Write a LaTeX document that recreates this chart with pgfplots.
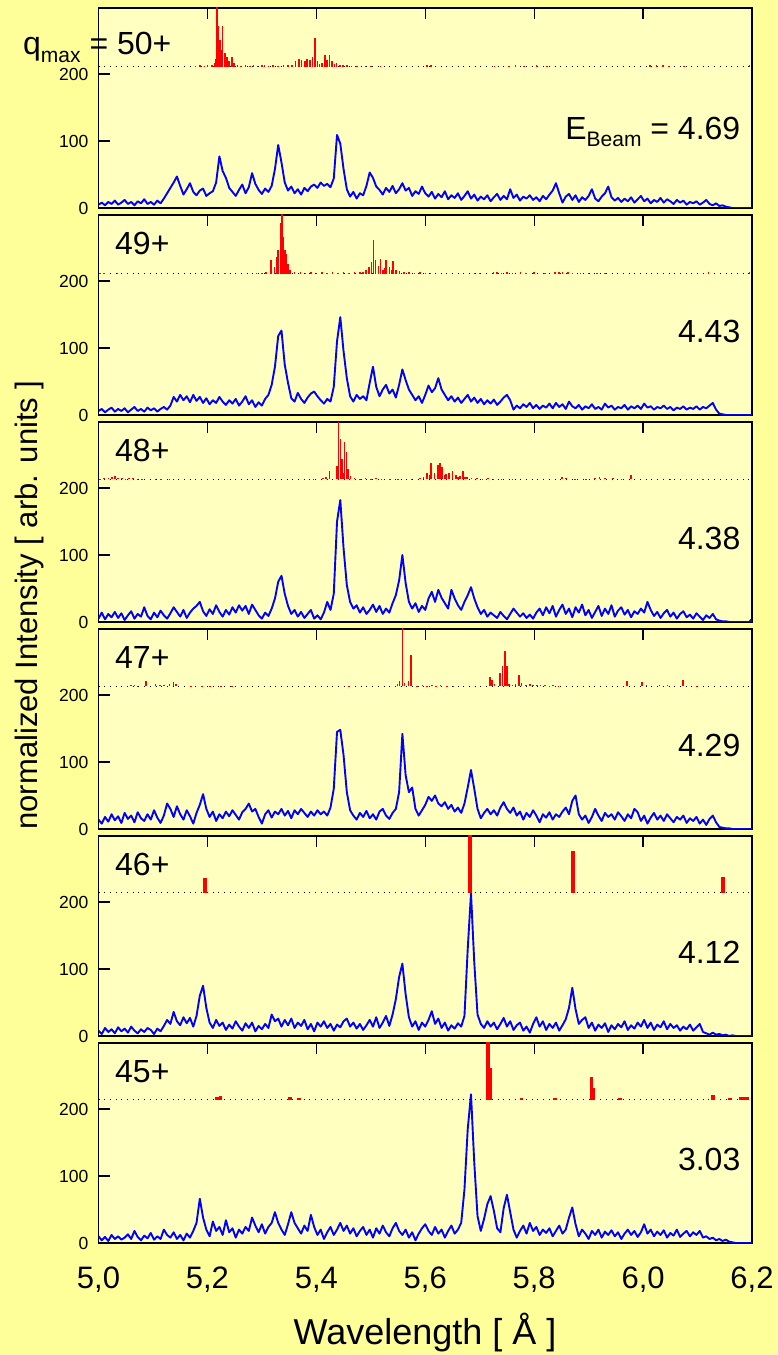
\documentclass[border=0pt]{standalone}
\usepackage{fontspec}
\setmainfont{Liberation Sans}
\usepackage{pgfplots}
\usepackage{pgfplotstable}
\pgfplotsset{compat=1.18}
\definecolor{outerbg}{RGB}{255,255,153}
\definecolor{innerbg}{RGB}{255,255,192}
\newcommand\fs[1]{\fontsize{#1}{#1}\selectfont}

\pgfplotsset{
  panel/.style={
    scale only axis, width=653.5pt, height=200pt,
    xmin=5, xmax=6.2, ymin=0, ymax=298.5,
    anchor=north west,
    axis background/.style={fill=innerbg},
    xtick={5,5.2,5.4,5.6,5.8,6.0,6.2},
    xtick pos=right, xticklabel pos=left,
    ytick={0,100,200}, yticklabels={0,100,200},
    ytick pos=left,
    tick align=inside,
    major tick length=11pt,
    xticklabels={},
    yticklabel style={font=\fs{17.5}, inner sep=0pt, xshift=-10pt},
    axis line style={line width=1.2pt, black},
    tick style={line width=1.2pt, black},
  },
  overlay/.style={
    scale only axis, width=653.5pt, height=200pt,
    xmin=5, xmax=6.2, anchor=north west, hide axis, clip=true,
  },
  bluel/.style={blue, line width=1.9pt, line join=round, mark=none},
  dotl/.style={black, line width=1pt, dash pattern=on 1pt off 4.7pt},
  sticks/.style={ycomb, red, mark=none, line width=#1},
}

% ---------------- blue spectra ----------------
\pgfplotstableread{
x y
5.000 5
5.006 8
5.012 4
5.018 9
5.024 6
5.030 11
5.036 5
5.042 8
5.048 12
5.054 6
5.060 9
5.066 4
5.072 10
5.078 7
5.084 13
5.090 6
5.096 9
5.102 5
5.108 11
5.114 7
5.120 14
5.126 22
5.132 30
5.138 38
5.144 47
5.150 33
5.156 20
5.162 28
5.168 37
5.174 24
5.180 19
5.186 26
5.192 29
5.198 18
5.204 22
5.210 25
5.216 38
5.222 77
5.228 55
5.234 45
5.240 30
5.246 24
5.252 18
5.258 27
5.264 35
5.270 22
5.276 31
5.282 52
5.288 36
5.294 27
5.300 21
5.306 29
5.312 24
5.318 33
5.324 58
5.330 94
5.336 68
5.342 38
5.348 26
5.354 32
5.360 22
5.366 28
5.372 20
5.378 30
5.384 25
5.390 32
5.396 35
5.402 30
5.408 38
5.414 33
5.420 36
5.426 31
5.432 44
5.438 109
5.444 96
5.450 58
5.456 28
5.462 17
5.468 24
5.474 14
5.480 22
5.486 19
5.492 33
5.498 53
5.504 45
5.510 32
5.516 27
5.522 20
5.528 30
5.534 24
5.540 33
5.546 22
5.552 28
5.558 37
5.564 26
5.570 30
5.576 18
5.582 25
5.588 21
5.594 32
5.600 22
5.606 17
5.612 24
5.618 14
5.624 21
5.630 16
5.636 25
5.642 13
5.648 19
5.654 15
5.660 22
5.666 12
5.672 18
5.678 25
5.684 14
5.690 20
5.696 11
5.702 17
5.708 13
5.714 19
5.720 10
5.726 16
5.732 21
5.738 12
5.744 18
5.750 13
5.756 28
5.762 15
5.768 20
5.774 11
5.780 17
5.786 14
5.792 19
5.798 12
5.804 16
5.810 10
5.816 18
5.822 13
5.828 20
5.834 26
5.840 37
5.846 22
5.852 8
5.858 17
5.864 21
5.870 12
5.876 19
5.882 9
5.888 16
5.894 12
5.900 18
5.906 28
5.912 14
5.918 10
5.924 17
5.930 22
5.936 32
5.942 16
5.948 11
5.954 15
5.960 9
5.966 14
5.972 10
5.978 16
5.984 8
5.990 13
5.996 18
6.002 10
6.008 14
6.014 7
6.020 12
6.026 9
6.032 15
6.038 8
6.044 13
6.050 10
6.056 6
6.062 12
6.068 8
6.074 11
6.080 5
6.086 9
6.092 7
6.098 10
6.104 5
6.110 8
6.116 12
6.122 6
6.128 4
6.134 7
6.140 3
6.146 4
6.152 2
6.158 1
6.164 0
6.200 0
}\blueA

\pgfplotstableread{
x y
5.000 6
5.006 9
5.012 4
5.018 8
5.024 11
5.030 5
5.036 9
5.042 6
5.048 10
5.054 4
5.060 8
5.066 12
5.072 6
5.078 9
5.084 5
5.090 11
5.096 7
5.102 10
5.108 5
5.114 9
5.120 12
5.126 8
5.132 14
5.138 27
5.144 20
5.150 30
5.156 22
5.162 28
5.168 19
5.174 30
5.180 21
5.186 27
5.192 18
5.198 25
5.204 16
5.210 22
5.216 18
5.222 27
5.228 20
5.234 15
5.240 22
5.246 17
5.252 24
5.258 14
5.264 20
5.270 28
5.276 16
5.282 22
5.288 12
5.294 19
5.300 14
5.306 24
5.312 30
5.318 45
5.324 72
5.330 118
5.336 126
5.342 75
5.348 48
5.354 25
5.360 20
5.366 33
5.372 24
5.378 18
5.384 26
5.390 32
5.396 35
5.402 28
5.408 22
5.414 17
5.420 24
5.426 20
5.432 42
5.438 110
5.444 146
5.450 95
5.456 55
5.462 28
5.468 20
5.474 30
5.480 24
5.486 28
5.492 22
5.498 48
5.504 72
5.510 42
5.516 28
5.522 38
5.528 45
5.534 32
5.540 38
5.546 26
5.552 45
5.558 68
5.564 52
5.570 38
5.576 30
5.582 22
5.588 28
5.594 18
5.600 30
5.606 44
5.612 34
5.618 40
5.624 55
5.630 38
5.636 30
5.642 22
5.648 28
5.654 20
5.660 26
5.666 18
5.672 24
5.678 30
5.684 20
5.690 26
5.696 18
5.702 24
5.708 16
5.714 22
5.720 17
5.726 23
5.732 15
5.738 20
5.744 26
5.750 30
5.756 22
5.762 8
5.768 14
5.774 10
5.780 16
5.786 12
5.792 18
5.798 10
5.804 15
5.810 9
5.816 14
5.822 11
5.828 17
5.834 10
5.840 18
5.846 12
5.852 16
5.858 9
5.864 20
5.870 13
5.876 10
5.882 15
5.888 8
5.894 13
5.900 10
5.906 16
5.912 9
5.918 12
5.924 8
5.930 17
5.936 11
5.942 14
5.948 8
5.954 12
5.960 10
5.966 15
5.972 8
5.978 13
5.984 10
5.990 14
5.996 9
6.002 17
6.008 11
6.014 13
6.020 8
6.026 12
6.032 10
6.038 14
6.044 9
6.050 12
6.056 7
6.062 11
6.068 9
6.074 13
6.080 8
6.086 11
6.092 9
6.098 13
6.104 8
6.110 12
6.116 10
6.122 14
6.128 18
6.134 8
6.140 2
6.146 1
6.152 0
6.200 0
}\blueB

\pgfplotstableread{
x y
5.000 5
5.006 14
5.012 4
5.018 12
5.024 7
5.030 15
5.036 6
5.042 13
5.048 3
5.054 10
5.060 16
5.066 5
5.072 12
5.078 8
5.084 22
5.090 9
5.096 4
5.102 14
5.108 7
5.114 17
5.120 10
5.126 5
5.132 13
5.138 22
5.144 15
5.150 8
5.156 18
5.162 6
5.168 14
5.174 20
5.180 24
5.186 30
5.192 16
5.198 9
5.204 19
5.210 12
5.216 25
5.222 15
5.228 8
5.234 18
5.240 11
5.246 22
5.252 14
5.258 25
5.264 17
5.270 24
5.276 12
5.282 26
5.288 18
5.294 10
5.300 5
5.306 14
5.312 9
5.318 20
5.324 35
5.330 60
5.336 69
5.342 42
5.348 24
5.354 12
5.360 18
5.366 8
5.372 15
5.378 6
5.384 12
5.390 18
5.396 5
5.402 10
5.408 4
5.414 14
5.420 30
5.426 18
5.432 42
5.438 150
5.444 182
5.450 110
5.456 55
5.462 30
5.468 20
5.474 25
5.480 14
5.486 22
5.492 12
5.498 18
5.504 26
5.510 15
5.516 24
5.522 12
5.528 20
5.534 14
5.540 28
5.546 40
5.552 62
5.558 100
5.564 58
5.570 30
5.576 20
5.582 28
5.588 15
5.594 24
5.600 18
5.606 35
5.612 45
5.618 30
5.624 48
5.630 36
5.636 28
5.642 20
5.648 48
5.654 35
5.660 25
5.666 18
5.672 30
5.678 40
5.684 52
5.690 35
5.696 22
5.702 12
5.708 18
5.714 8
5.720 14
5.726 10
5.732 6
5.738 15
5.744 9
5.750 4
5.756 12
5.762 20
5.768 14
5.774 8
5.780 13
5.786 6
5.792 11
5.798 5
5.804 14
5.810 20
5.816 10
5.822 22
5.828 13
5.834 24
5.840 8
5.846 18
5.852 26
5.858 12
5.864 20
5.870 7
5.876 22
5.882 14
5.888 26
5.894 10
5.900 18
5.906 6
5.912 15
5.918 24
5.924 9
5.930 20
5.936 12
5.942 25
5.948 8
5.954 17
5.960 22
5.966 11
5.972 18
5.978 7
5.984 16
5.990 12
5.996 20
6.002 14
6.008 30
6.014 18
6.020 9
6.026 15
6.032 6
6.038 13
6.044 18
6.050 8
6.056 14
6.062 5
6.068 12
6.074 16
6.080 7
6.086 11
6.092 5
6.098 13
6.104 8
6.110 3
6.116 10
6.122 6
6.128 12
6.134 4
6.140 2
6.146 1
6.152 1
6.158 0
6.195 0
6.198 3
6.200 0
}\blueC

\pgfplotstableread{
x y
5.000 14
5.006 8
5.012 18
5.018 11
5.024 22
5.030 13
5.036 19
5.042 9
5.048 24
5.054 15
5.060 20
5.066 10
5.072 25
5.078 16
5.084 12
5.090 22
5.096 14
5.102 28
5.108 17
5.114 9
5.120 20
5.126 38
5.132 30
5.138 18
5.144 34
5.150 22
5.156 14
5.162 28
5.168 19
5.174 8
5.180 24
5.186 36
5.192 52
5.198 30
5.204 18
5.210 26
5.216 12
5.222 22
5.228 16
5.234 26
5.240 19
5.246 28
5.252 21
5.258 14
5.264 25
5.270 30
5.276 38
5.282 26
5.288 30
5.294 18
5.300 8
5.306 22
5.312 28
5.318 17
5.324 26
5.330 22
5.336 30
5.342 20
5.348 27
5.354 16
5.360 28
5.366 22
5.372 30
5.378 24
5.384 18
5.390 26
5.396 20
5.402 28
5.408 22
5.414 26
5.420 20
5.426 32
5.432 60
5.438 145
5.444 148
5.450 110
5.456 55
5.462 28
5.468 20
5.474 14
5.480 24
5.486 18
5.492 27
5.498 16
5.504 22
5.510 14
5.516 26
5.522 30
5.528 20
5.534 15
5.540 24
5.546 30
5.552 55
5.558 142
5.564 80
5.570 55
5.576 62
5.582 30
5.588 20
5.594 28
5.600 36
5.606 48
5.612 42
5.618 50
5.624 38
5.630 34
5.636 40
5.642 30
5.648 36
5.654 26
5.660 32
5.666 24
5.672 38
5.678 62
5.684 88
5.690 60
5.696 30
5.702 16
5.708 24
5.714 30
5.720 22
5.726 28
5.732 20
5.738 32
5.744 40
5.750 30
5.756 24
5.762 32
5.768 20
5.774 26
5.780 14
5.786 24
5.792 18
5.798 28
5.804 20
5.810 10
5.816 22
5.822 17
5.828 25
5.834 14
5.840 22
5.846 18
5.852 26
5.858 32
5.864 22
5.870 42
5.876 50
5.882 22
5.888 14
5.894 20
5.900 9
5.906 18
5.912 30
5.918 20
5.924 12
5.930 24
5.936 18
5.942 22
5.948 14
5.954 25
5.960 19
5.966 12
5.972 22
5.978 16
5.984 30
5.990 25
5.996 12
6.002 20
6.008 8
6.014 17
6.020 24
6.026 14
6.032 20
6.038 12
6.044 22
6.050 16
6.056 10
6.062 18
6.068 14
6.074 20
6.080 9
6.086 16
6.092 12
6.098 18
6.104 8
6.110 14
6.116 6
6.122 15
6.128 20
6.134 10
6.140 3
6.146 2
6.152 1
6.158 1
6.164 0
6.200 0
}\blueD

\pgfplotstableread{
x y
5.000 8
5.006 3
5.012 12
5.018 6
5.024 10
5.030 4
5.036 13
5.042 7
5.048 11
5.054 5
5.060 14
5.066 8
5.072 4
5.078 10
5.084 6
5.090 12
5.096 9
5.102 3
5.108 11
5.114 7
5.120 15
5.126 24
5.132 18
5.138 36
5.144 22
5.150 16
5.156 28
5.162 19
5.168 27
5.174 14
5.180 30
5.186 60
5.192 75
5.198 42
5.204 20
5.210 12
5.216 24
5.222 15
5.228 20
5.234 9
5.240 17
5.246 11
5.252 22
5.258 14
5.264 8
5.270 19
5.276 12
5.282 20
5.288 7
5.294 15
5.300 10
5.306 18
5.312 12
5.318 32
5.324 22
5.330 26
5.336 14
5.342 24
5.348 16
5.354 26
5.360 12
5.366 20
5.372 15
5.378 24
5.384 10
5.390 18
5.396 7
5.402 20
5.408 14
5.414 22
5.420 12
5.426 18
5.432 8
5.438 17
5.444 13
5.450 22
5.456 26
5.462 14
5.468 20
5.474 11
5.480 18
5.486 9
5.492 16
5.498 24
5.504 14
5.510 28
5.516 12
5.522 20
5.528 30
5.534 15
5.540 32
5.546 55
5.552 88
5.558 108
5.564 62
5.570 28
5.576 14
5.582 22
5.588 9
5.594 20
5.600 14
5.606 24
5.612 37
5.618 18
5.624 26
5.630 12
5.636 20
5.642 8
5.648 16
5.654 11
5.660 19
5.666 14
5.672 30
5.678 130
5.684 213
5.690 110
5.696 32
5.702 18
5.708 12
5.714 22
5.720 14
5.726 20
5.732 10
5.738 18
5.744 27
5.750 14
5.756 22
5.762 9
5.768 16
5.774 20
5.780 8
5.786 14
5.792 5
5.798 18
5.804 28
5.810 14
5.816 22
5.822 9
5.828 18
5.834 12
5.840 20
5.846 8
5.852 16
5.858 25
5.864 42
5.870 72
5.876 40
5.882 18
5.888 24
5.894 28
5.900 12
5.906 20
5.912 8
5.918 17
5.924 12
5.930 19
5.936 6
5.942 16
5.948 10
5.954 18
5.960 13
5.966 22
5.972 9
5.978 16
5.984 11
5.990 20
5.996 14
6.002 24
6.008 12
6.014 20
6.020 9
6.026 17
6.032 13
6.038 22
6.044 10
6.050 18
6.056 12
6.062 16
6.068 8
6.074 14
6.080 10
6.086 17
6.092 8
6.098 13
6.104 18
6.110 6
6.116 4
6.122 2
6.128 5
6.134 2
6.140 3
6.146 1
6.152 2
6.158 0
6.164 1
6.170 0
6.200 0
}\blueE

\pgfplotstableread{
x y
5.000 10
5.006 4
5.012 9
5.018 3
5.024 12
5.030 6
5.036 10
5.042 5
5.048 8
5.054 13
5.060 6
5.066 18
5.072 9
5.078 4
5.084 11
5.090 7
5.096 15
5.102 5
5.108 10
5.114 6
5.120 20
5.126 12
5.132 8
5.138 16
5.144 6
5.150 12
5.156 4
5.162 14
5.168 8
5.174 18
5.180 30
5.186 66
5.192 38
5.198 20
5.204 10
5.210 32
5.216 18
5.222 24
5.228 12
5.234 34
5.240 16
5.246 22
5.252 8
5.258 20
5.264 14
5.270 24
5.276 18
5.282 38
5.288 26
5.294 16
5.300 28
5.306 14
5.312 24
5.318 30
5.324 46
5.330 30
5.336 20
5.342 12
5.348 28
5.354 46
5.360 30
5.366 22
5.372 14
5.378 26
5.384 18
5.390 42
5.396 24
5.402 12
5.408 20
5.414 6
5.420 16
5.426 24
5.432 12
5.438 20
5.444 30
5.450 18
5.456 26
5.462 14
5.468 22
5.474 10
5.480 18
5.486 24
5.492 12
5.498 20
5.504 8
5.510 22
5.516 14
5.522 26
5.528 16
5.534 10
5.540 22
5.546 30
5.552 18
5.558 12
5.564 20
5.570 8
5.576 16
5.582 4
5.588 14
5.594 22
5.600 28
5.606 18
5.612 12
5.618 24
5.624 14
5.630 20
5.636 8
5.642 18
5.648 26
5.654 14
5.660 20
5.666 30
5.672 80
5.678 170
5.684 222
5.690 120
5.696 40
5.702 18
5.708 36
5.714 58
5.720 70
5.726 48
5.732 22
5.738 16
5.744 52
5.750 72
5.756 46
5.762 20
5.768 8
5.774 18
5.780 26
5.786 14
5.792 30
5.798 18
5.804 24
5.810 12
5.816 20
5.822 15
5.828 22
5.834 10
5.840 18
5.846 26
5.852 14
5.858 20
5.864 38
5.870 53
5.876 28
5.882 10
5.888 20
5.894 14
5.900 6
5.906 18
5.912 12
5.918 20
5.924 8
5.930 17
5.936 12
5.942 19
5.948 10
5.954 16
5.960 6
5.966 14
5.972 20
5.978 12
5.984 18
5.990 9
5.996 16
6.002 28
6.008 14
6.014 20
6.020 10
6.026 17
6.032 12
6.038 19
6.044 8
6.050 15
6.056 11
6.062 20
6.068 9
6.074 14
6.080 18
6.086 10
6.092 16
6.098 12
6.104 18
6.110 8
6.116 10
6.122 6
6.128 8
6.134 4
6.140 6
6.146 3
6.152 5
6.158 2
6.164 1
6.170 0
6.200 0
}\blueF

% ---------------- red stick spectra: x, height above the dotted baseline ----------------
\pgfplotstableread{
x h
5.178 1
5.186 2
5.195 1
5.200 2
5.208 3
5.213 5
5.216 12
5.218 90
5.220 60
5.223 40
5.225 25
5.228 60
5.232 20
5.236 15
5.240 8
5.245 15
5.249 5
5.255 2
5.262 1
5.270 2
5.278 1
5.285 2
5.292 1
5.300 3
5.305 2
5.312 1
5.320 2
5.330 1
5.340 2
5.348 3
5.355 2
5.362 8
5.368 12
5.373 10
5.379 8
5.383 12
5.388 10
5.393 14
5.398 43
5.402 8
5.406 4
5.410 6
5.416 18
5.420 10
5.424 17
5.429 8
5.433 4
5.437 5
5.443 2
5.449 3
5.456 2
5.465 1
5.475 1
5.490 1
5.500 1
5.518 1
5.603 2
5.611 2
5.727 1
5.754 1
5.766 2
5.781 1
5.804 2
5.824 1
6.013 2
6.025 2
6.037 2
6.048 1
6.075 1
6.195 2
}\redA

\pgfplotstableread{
x h
5.003 1
5.010 1
5.035 1
5.232 1
5.290 1
5.300 1
5.308 2
5.317 20
5.323 10
5.327 25
5.330 35
5.334 75
5.337 90
5.339 55
5.342 35
5.345 30
5.348 15
5.352 5
5.360 2
5.371 2
5.380 1
5.390 2
5.400 1
5.410 2
5.420 1
5.430 2
5.440 1
5.450 2
5.460 1
5.470 2
5.480 2
5.486 3
5.491 5
5.497 10
5.501 18
5.505 50
5.509 20
5.514 12
5.518 22
5.522 6
5.525 8
5.528 20
5.534 10
5.538 5
5.541 19
5.546 6
5.553 4
5.561 3
5.570 2
5.580 1
5.590 2
5.600 1
5.610 1
5.690 1
5.700 1
5.725 2
5.732 2
5.740 1
5.750 2
5.760 1
5.775 2
5.785 1
5.800 2
5.820 1
5.838 3
5.846 3
5.852 2
5.862 2
5.870 1
5.885 1
5.900 1
5.915 1
5.930 1
6.120 2
6.195 2
}\redB

\pgfplotstableread{
x h
5.003 1
5.010 2
5.018 2
5.025 3
5.030 5
5.036 2
5.043 2
5.050 1
5.056 2
5.063 2
5.072 1
5.080 1
5.105 1
5.115 1
5.130 1
5.395 1
5.412 2
5.418 4
5.424 13
5.438 20
5.441 85
5.444 60
5.447 30
5.450 10
5.452 55
5.455 40
5.458 15
5.463 5
5.470 2
5.480 1
5.490 2
5.500 1
5.510 2
5.520 1
5.535 1
5.550 1
5.575 1
5.590 2
5.597 4
5.603 10
5.608 6
5.611 24
5.617 10
5.623 22
5.627 25
5.631 18
5.635 6
5.638 8
5.644 10
5.650 12
5.656 6
5.660 3
5.664 5
5.669 12
5.673 3
5.677 4
5.685 2
5.695 2
5.705 1
5.715 2
5.725 1
5.740 1
5.760 1
5.851 4
5.858 2
5.875 1
5.895 1
5.912 2
5.920 3
5.930 2
5.945 2
5.960 1
5.978 7
6.050 1
6.080 1
6.110 1
}\redC

\pgfplotstableread{
x h
5.060 2
5.066 2
5.072 1
5.087 8
5.105 3
5.113 2
5.120 2
5.130 4
5.138 6
5.142 3
5.170 1
5.190 1
5.205 1
5.225 1
5.245 1
5.460 1
5.549 4
5.553 8
5.558 88
5.562 5
5.569 8
5.574 47
5.585 1
5.595 2
5.603 1
5.612 2
5.620 1
5.628 2
5.640 1
5.652 1
5.719 14
5.723 10
5.727 4
5.737 20
5.742 31
5.746 52
5.750 30
5.754 4
5.760 2
5.766 3
5.772 17
5.777 5
5.785 2
5.792 3
5.798 2
5.805 2
5.812 2
5.820 2
5.828 1
5.835 2
5.845 1
5.970 8
5.998 6
6.006 2
6.030 2
6.045 2
6.073 9
6.098 1
}\redD

\pgfplotstableread{
x h
5.195 22
5.683 90
5.872 62
6.147 24
}\redE

\pgfplotstableread{
x h
5.218 4
5.224 5
5.352 4
5.368 3
5.715 90
5.720 47
5.777 3
5.838 3
5.905 34
5.908 18
5.958 3
6.128 7
6.160 3
6.180 4
6.186 4
6.192 4
}\redF

\begin{document}
\begin{tikzpicture}[x=1pt,y=1pt]
\fill[outerbg] (0pt,0pt) rectangle (777pt,1355pt);

% Panel 1
\begin{axis}[panel, at={(98.5pt,1347pt)}]
\addplot[dotl] coordinates {(5,211) (6.2,211)};
\addplot[bluel] table[x=x,y=y] {\blueA};
\end{axis}
\begin{axis}[overlay, at={(98.5pt,1347pt)}, ymin=-211, ymax=87.5]
\addplot[sticks=1.5pt] table[x=x,y=h] {\redA};
\end{axis}

% Panel 2
\begin{axis}[panel, at={(98.5pt,1140pt)}]
\addplot[dotl] coordinates {(5,211) (6.2,211)};
\addplot[bluel] table[x=x,y=y] {\blueB};
\end{axis}
\begin{axis}[overlay, at={(98.5pt,1140pt)}, ymin=-211, ymax=87.5]
\addplot[sticks=1.5pt] table[x=x,y=h] {\redB};
\end{axis}

% Panel 3
\begin{axis}[panel, at={(98.5pt,933pt)}]
\addplot[dotl] coordinates {(5,213) (6.2,213)};
\addplot[bluel] table[x=x,y=y] {\blueC};
\end{axis}
\begin{axis}[overlay, at={(98.5pt,933pt)}, ymin=-213, ymax=85.5]
\addplot[sticks=1.5pt] table[x=x,y=h] {\redC};
\end{axis}

% Panel 4
\begin{axis}[panel, at={(98.5pt,726pt)}]
\addplot[dotl] coordinates {(5,213) (6.2,213)};
\addplot[bluel] table[x=x,y=y] {\blueD};
\end{axis}
\begin{axis}[overlay, at={(98.5pt,726pt)}, ymin=-213, ymax=85.5]
\addplot[sticks=1.5pt] table[x=x,y=h] {\redD};
\end{axis}

% Panel 5
\begin{axis}[panel, at={(98.5pt,519pt)}]
\addplot[dotl] coordinates {(5,214) (6.2,214)};
\addplot[bluel] table[x=x,y=y] {\blueE};
\end{axis}
\begin{axis}[overlay, at={(98.5pt,519pt)}, ymin=-214, ymax=84.5]
\addplot[sticks=4pt] table[x=x,y=h] {\redE};
\end{axis}

% Panel 6
\begin{axis}[panel, at={(98.5pt,312pt)},
  xticklabels={{5,0},{5,2},{5,4},{5,6},{5,8},{6,0},{6,2}},
  xticklabel style={font=\fs{31}, inner sep=0pt, anchor=north, yshift=-24pt}]
\addplot[dotl] coordinates {(5,214) (6.2,214)};
\addplot[bluel] table[x=x,y=y] {\blueF};
\end{axis}
\begin{axis}[overlay, at={(98.5pt,312pt)}, ymin=-214, ymax=84.5]
\addplot[sticks=3.5pt] table[x=x,y=h] {\redF};
\end{axis}

% Texts
\node[anchor=base west, inner sep=0pt] at (23pt,1300pt) {\fs{32}q\raisebox{-8pt}{\fs{21}max} = 50+};
\node[anchor=base east, inner sep=0pt] at (740.5pt,1215pt) {\fs{32}E\raisebox{-7pt}{\fs{21}Beam} = 4.69};

\node[anchor=base west, inner sep=0pt] at (115pt,1100pt) {\fs{32}49+};
\node[anchor=base west, inner sep=0pt] at (115pt,893pt) {\fs{32}48+};
\node[anchor=base west, inner sep=0pt] at (115pt,686pt) {\fs{32}47+};
\node[anchor=base west, inner sep=0pt] at (115pt,479pt) {\fs{32}46+};
\node[anchor=base west, inner sep=0pt] at (115pt,272pt) {\fs{32}45+};

\node[anchor=base east, inner sep=0pt] at (740.5pt,1012pt) {\fs{32}4.43};
\node[anchor=base east, inner sep=0pt] at (740.5pt,805pt) {\fs{32}4.38};
\node[anchor=base east, inner sep=0pt] at (740.5pt,598pt) {\fs{32}4.29};
\node[anchor=base east, inner sep=0pt] at (740.5pt,391pt) {\fs{32}4.12};
\node[anchor=base east, inner sep=0pt] at (740.5pt,184pt) {\fs{32}3.03};

\node[anchor=base, inner sep=0pt] at (425pt,10pt) {\fs{36}Wavelength [ Å ]};
\node[rotate=90, anchor=center, inner sep=0pt] at (29pt,750pt) {\fs{31}normalized Intensity [ arb. units ]};
\end{tikzpicture}
\end{document}
